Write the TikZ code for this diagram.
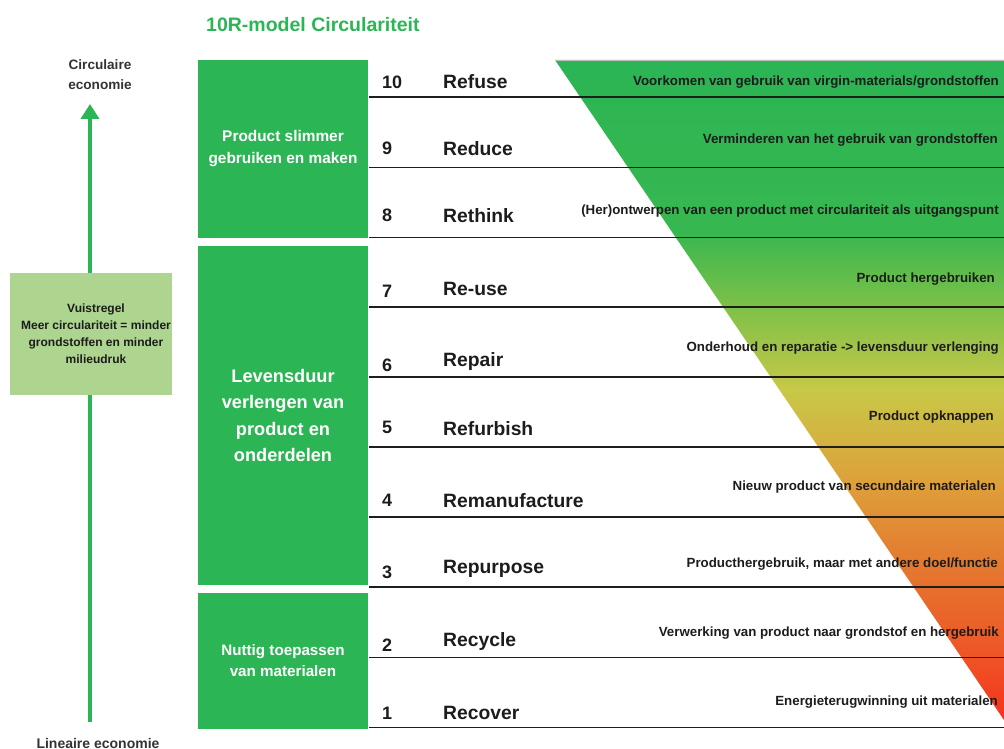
\documentclass[tikz,border=0pt]{standalone}
\usepackage{fontspec}
\setmainfont{Liberation Sans}
\usetikzlibrary{arrows.meta}
\definecolor{grn}{RGB}{43,181,84}
\definecolor{lgrn}{RGB}{174,213,143}
\definecolor{txt}{RGB}{28,28,28}
\definecolor{rowline}{RGB}{30,30,30}
\definecolor{s0}{RGB}{43,181,84}
\definecolor{s1}{RGB}{55,183,80}
\definecolor{s2}{RGB}{120,192,72}
\definecolor{s3}{RGB}{200,200,72}
\definecolor{s4}{RGB}{222,160,58}
\definecolor{s5}{RGB}{228,122,48}
\definecolor{s6}{RGB}{238,85,38}
\definecolor{s7}{RGB}{246,50,28}
\pgfdeclareverticalshading{trishade}{100bp}{color(0bp)=(s7); color(25bp)=(s7); color(30bp)=(s6); color(37bp)=(s5); color(43bp)=(s4); color(50bp)=(s3); color(56.75bp)=(s2); color(62bp)=(s1); color(75bp)=(s0); color(100bp)=(s0)}
\begin{document}
\begin{tikzpicture}[x=1pt,y=-1pt,
  gbox/.style={fill=grn, draw=none, text=white, font=\bfseries, align=center, inner sep=0pt},
  num/.style={anchor=west, text=txt, font=\fontsize{18}{22}\selectfont\bfseries, inner sep=0pt},
  rlabel/.style={anchor=west, text=txt, font=\fontsize{19.3}{22}\selectfont\bfseries, inner sep=0pt},
  desc/.style={anchor=east, text=txt, font=\fontsize{13.3}{15}\selectfont\bfseries, inner sep=0pt},
  rowrule/.style={draw=rowline, line width=1.8pt},
  side/.style={text=txt!90, font=\fontsize{13.6}{20}\selectfont\bfseries, align=center, inner sep=0pt},
  arr/.style={draw=grn, line width=4pt, -{Triangle[length=15pt,width=18pt]}}
]
\useasboundingbox (0,0) rectangle (1004,749);
% gradient triangle
\shade[shading=trishade] (555,60) -- (1004,60) -- (1004,720) -- cycle;
\draw[black!25, line width=0.6pt] (555,60) -- (1004,60);
% title
\node[text=grn, font=\fontsize{19.5}{24}\selectfont\bfseries, anchor=west, inner sep=0pt] (title) at (206,25) {10R-model Circulariteit};
% left axis
\coordinate (abot) at (90,722);
\coordinate (atop) at (90,104);
\draw[arr] (abot) -- (atop);
\node[side] (circ) at (100,75) {Circulaire\\economie};
\node[side, font=\fontsize{14}{20}\selectfont\bfseries] (lin) at (98,743) {Lineaire economie};
\node[fill=lgrn, minimum width=162pt, minimum height=122pt, inner sep=0pt] (vuist) at (91,334) {};
\node[inner sep=0pt, text=txt, font=\fontsize{12}{17}\selectfont\bfseries, align=center] (vuisttxt) at ([xshift=5pt]vuist.center) {Vuistregel\\Meer circulariteit = minder\\grondstoffen en minder\\milieudruk};
% green category boxes
\node[gbox, minimum width=170pt, minimum height=178pt, font=\fontsize{15.4}{22}\selectfont\bfseries] (b1) at (283,149) {Product slimmer\\gebruiken en maken};
\node[gbox, minimum width=170pt, minimum height=339pt, font=\fontsize{18.2}{26.5}\selectfont\bfseries] (b2) at (283,415.5) {Levensduur\\verlengen van\\product en\\onderdelen};
\node[gbox, minimum width=170pt, minimum height=136pt, font=\fontsize{15.2}{21}\selectfont\bfseries] (b3) at (283,661) {Nuttig toepassen\\van materialen};
% row rules
\foreach \yy/\nm in {97/r10,167.5/r9,237.5/r8,307/r7,377/r6,447/r5,517/r4,587/r3,657.5/r2,727.5/r1}{
  \coordinate (\nm a) at (369,\yy);
  \coordinate (\nm b) at (1004,\yy);
  \draw[rowrule] (\nm a) -- (\nm b);
}
% numbers and labels
\node[num] (n10) at (382,82) {10};
\node[rlabel] (l10) at (443,82) {Refuse};
\node[num] (n9) at (382,148) {9};
\node[rlabel] (l9) at (443,149) {Reduce};
\node[num] (n8) at (382,215) {8};
\node[rlabel] (l8) at (443,216) {Rethink};
\node[num] (n7) at (382,291) {7};
\node[rlabel] (l7) at (443,289) {Re-use};
\node[num] (n6) at (382,365) {6};
\node[rlabel] (l6) at (443,362) {Repair};
\node[num] (n5) at (382,427) {5};
\node[rlabel] (l5) at (443,429) {Refurbish};
\node[num] (n4) at (382,500) {4};
\node[rlabel] (l4) at (443,501) {Remanufacture};
\node[num] (n3) at (382,572) {3};
\node[rlabel] (l3) at (443,569) {Repurpose};
\node[num] (n2) at (382,645) {2};
\node[rlabel] (l2) at (443,642) {Recycle};
\node[num] (n1) at (382,713) {1};
\node[rlabel] (l1) at (443,713) {Recover};
% descriptions
\node[desc] (d10) at (999,82) {Voorkomen van gebruik van virgin-materials/grondstoffen};
\node[desc] (d9) at (998,140) {Verminderen van het gebruik van grondstoffen};
\node[desc] (d8) at (999,211) {(Her)ontwerpen van een product met circulariteit als uitgangspunt};
\node[desc] (d7) at (995,279) {Product hergebruiken};
\node[desc] (d6) at (999,348) {Onderhoud en reparatie -> levensduur verlenging};
\node[desc] (d5) at (994,417) {Product opknappen};
\node[desc] (d4) at (996,487) {Nieuw product van secundaire materialen};
\node[desc] (d3) at (998,564) {Producthergebruik, maar met andere doel/functie};
\node[desc] (d2) at (999,633) {Verwerking van product naar grondstof en hergebruik};
\node[desc] (d1) at (998,702) {Energieterugwinning uit materialen};
\end{tikzpicture}
\end{document}
